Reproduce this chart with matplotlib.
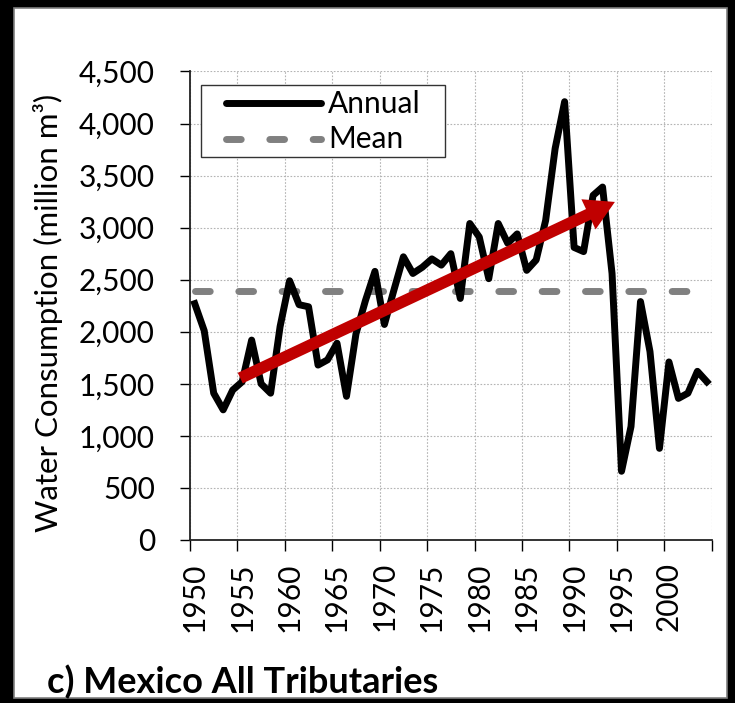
import matplotlib
matplotlib.use("Agg")
import matplotlib.pyplot as plt
from matplotlib.patches import Rectangle
from matplotlib.ticker import FuncFormatter, MultipleLocator

# ---------------------------------------------------------
# DATOS
# ---------------------------------------------------------
years = list(range(1950, 2005))
annual = [2270, 2010, 1410, 1250, 1440, 1520, 1920, 1500, 1410, 2050,
          2490, 2260, 2240, 1680, 1730, 1890, 1380, 1980, 2300, 2580,
          2070, 2400, 2720, 2560, 2620, 2700, 2640, 2750, 2320, 3040,
          2910, 2510, 3040, 2850, 2940, 2590, 2690, 3070, 3760, 4210,
          2810, 2770, 3310, 3390, 2560, 660, 1090, 2290, 1810, 880,
          1710, 1360, 1410, 1620, 1520]
mean_value = 2390
trend_start = (1954.8, 1555)
trend_end = (1994.3, 3247)
tick_years = list(range(1950, 2005, 5))

title = "c) Mexico All Tributaries"
ylabel = "Water Consumption (million m³)"

# ---------------------------------------------------------
# ESTILO
# ---------------------------------------------------------
plt.rcParams['font.family'] = ['Lato', 'DejaVu Sans']
plt.rcParams['lines.scale_dashes'] = False
FS = 21.5

fig = plt.figure(figsize=(7.35, 7.03), dpi=100, facecolor='black')
# panel blanco con borde gris (detrás de los ejes)
fig.patches.append(Rectangle((14 / 735, 5 / 703), 713 / 735, 690 / 703,
                             transform=fig.transFigure, facecolor='white',
                             edgecolor='#7f7f7f', lw=1.2, zorder=-10))

ax = fig.add_axes([0.2585, 0.2319, 0.7097, 0.6664])
ax.set_facecolor('white')

# serie anual y media
ax.plot(years, annual, color='black', lw=5, solid_joinstyle='round', zorder=3)
ax.plot([years[0], years[-1]], [mean_value, mean_value], color='#808080', lw=5,
        linestyle=(0, (10.6, 20.6)), dash_capstyle='round', zorder=2)

# flecha de tendencia
ax.annotate('', xy=trend_end, xytext=trend_start,
            arrowprops=dict(arrowstyle='simple,head_length=0.7,head_width=0.8,tail_width=0.28',
                            mutation_scale=30, facecolor='#C00000', edgecolor='none',
                            shrinkA=0, shrinkB=0), zorder=4)

# ejes
ax.set_xlim(years[0] - 0.5, years[-1] + 0.5)
ax.set_ylim(0, 4500)
ax.yaxis.set_major_locator(MultipleLocator(500))
ax.yaxis.set_major_formatter(FuncFormatter(lambda v, p: f"{v:,.0f}"))
ax.set_xticks(tick_years)
ax.set_xticklabels([str(y) for y in tick_years], rotation=90)
ax.set_xticks([y - 0.5 for y in tick_years] + [years[-1] + 0.5], minor=True)

ax.tick_params(axis='y', which='major', direction='out', length=7.2, width=1,
               pad=18, labelsize=FS, colors='black')
ax.tick_params(axis='x', which='major', length=0, pad=16, labelsize=FS)
ax.tick_params(axis='x', which='minor', direction='out', length=8, width=1)

for s in ['top', 'right']:
    ax.spines[s].set_visible(False)
for s in ['left', 'bottom']:
    ax.spines[s].set_linewidth(1.3)
    ax.spines[s].set_color('#222222')

grid_style = dict(color='#b4b4b4', linestyle=(0, (1.2, 1.2)), lw=0.8)
ax.grid(axis='y', which='major', **grid_style)
ax.grid(axis='x', which='minor', **grid_style)
ax.set_axisbelow(True)

ax.set_ylabel(ylabel, fontsize=22.5)
ax.yaxis.set_label_coords(-0.2435, 0.4856)

# leyenda dibujada a mano (marco ancho como en el original)
ax.add_patch(Rectangle((0.0205, 0.8175), 0.4684, 0.1537, transform=ax.transAxes,
                       facecolor='white', edgecolor='#333333', lw=1, zorder=5))
ax.plot([0.069, 0.2511], [0.9334, 0.9334], transform=ax.transAxes,
        color='black', lw=5, solid_capstyle='round', zorder=6)
ax.plot([0.069, 0.2511], [0.8559, 0.8559], transform=ax.transAxes,
        color='#808080', lw=5, linestyle=(0, (10.6, 20.6)),
        dash_capstyle='round', zorder=6)
ax.text(0.2646, 0.912, "Annual", transform=ax.transAxes, fontsize=FS,
        va='baseline', ha='left', zorder=7)
ax.text(0.2646, 0.8361, "Mean", transform=ax.transAxes, fontsize=FS,
        va='baseline', ha='left', zorder=7)

# título inferior
fig.text(47 / 735, 10 / 703, title, fontsize=26, fontweight='bold',
         ha='left', va='baseline')

fig.savefig('out.png', dpi=100, facecolor='black')
